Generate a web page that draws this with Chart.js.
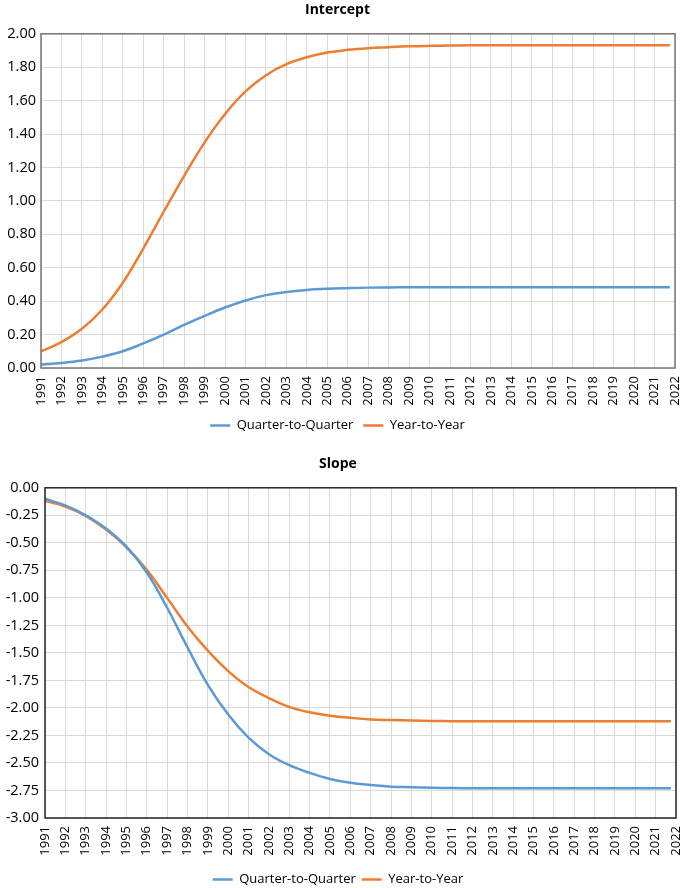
<!DOCTYPE html>
<html><head><meta charset="utf-8">
<script src="https://cdn.jsdelivr.net/npm/chart.js@4.4.0/dist/chart.umd.min.js"></script>
<style>html,body{margin:0;padding:0;background:#fff;} .box{width:685px;height:444px;position:relative;}</style>
</head><body>
<div class="box"><canvas id="c1" width="685" height="444"></canvas></div>
<div class="box"><canvas id="c2" width="685" height="444"></canvas></div>
<script>
// x positions (years; last point is 2021 Q4)
const years = [1991,1992,1993,1994,1995,1996,1997,1998,1999,2000,2001,2002,2003,2004,2005,2006,2007,2008,2009,2010,2011,2012,2013,2014,2015,2016,2017,2018,2019,2020,2021,2021.75];
const seriesNames = ['Quarter-to-Quarter','Year-to-Year'];
const interceptQ = [0.020,0.030,0.045,0.068,0.100,0.147,0.200,0.258,0.312,0.362,0.404,0.436,0.455,0.467,0.474,0.478,0.481,0.482,0.483,0.483,0.483,0.483,0.483,0.483,0.483,0.483,0.483,0.483,0.483,0.483,0.483,0.483];
const interceptY = [0.100,0.155,0.235,0.350,0.510,0.715,0.935,1.150,1.350,1.520,1.655,1.752,1.818,1.860,1.888,1.904,1.914,1.920,1.925,1.928,1.930,1.931,1.932,1.932,1.932,1.932,1.932,1.932,1.932,1.932,1.932,1.932];
const slopeQ = [-0.10,-0.16,-0.25,-0.37,-0.535,-0.77,-1.09,-1.45,-1.79,-2.06,-2.27,-2.42,-2.52,-2.59,-2.645,-2.68,-2.70,-2.715,-2.72,-2.725,-2.728,-2.73,-2.73,-2.73,-2.73,-2.73,-2.73,-2.73,-2.73,-2.73,-2.73,-2.73];
const slopeY = [-0.12,-0.17,-0.255,-0.38,-0.54,-0.745,-1.00,-1.26,-1.48,-1.665,-1.81,-1.91,-1.99,-2.04,-2.07,-2.09,-2.105,-2.11,-2.115,-2.118,-2.12,-2.12,-2.12,-2.12,-2.12,-2.12,-2.12,-2.12,-2.12,-2.12,-2.12,-2.12];
const xMin = 1991, xMax = 2022;
const interceptTicks = {min:0, max:2, step:0.2};
const slopeTicks = {min:-3, max:0, step:0.25};

const BLUE = '#5B9BD5', ORANGE = '#ED7D31';
Chart.defaults.font.family = "'Open Sans', sans-serif";
Chart.defaults.color = '#000';

const frame = {
  id:'frame',
  afterDatasetsDraw(chart, args, opts){
    const a = chart.chartArea, ctx = chart.ctx;
    ctx.save();
    ctx.strokeStyle = opts.color; ctx.lineWidth = 1.5;
    ctx.strokeRect(a.left, a.top, a.right - a.left, a.bottom - a.top);
    ctx.restore();
  }
};

function pts(arr){ return years.map((x,i)=>({x:x, y:arr[i]})); }

function makeChart(id, title, q, y, yt, cfg){
  return new Chart(document.getElementById(id), {
    type:'line',
    data:{datasets:[
      {label:seriesNames[0], data:pts(q), borderColor:BLUE, backgroundColor:BLUE, borderWidth:2.5, pointRadius:0, tension:0.4},
      {label:seriesNames[1], data:pts(y), borderColor:ORANGE, backgroundColor:ORANGE, borderWidth:2.5, pointRadius:0, tension:0.4}
    ]},
    plugins:[frame],
    options:{
      responsive:false, animation:false, devicePixelRatio:1,
      layout:{padding:{left:0, right:cfg.right, top:0, bottom:cfg.bottom}},
      plugins:{
        frame:{color:cfg.frame},
        title:{display:true, text:title, font:{size:14, weight:'bold'}, color:'#000', padding:{top:cfg.tTop, bottom:cfg.tBot}},
        legend:{position:'bottom', labels:{usePointStyle:true, pointStyle:'line', pointStyleWidth:20, boxHeight:3, padding:cfg.lPad, font:{size:13}, color:'#000'}},
        tooltip:{enabled:false}
      },
      scales:{
        x:{type:'linear', min:xMin, max:xMax,
           afterFit(s){ s.height = cfg.xH; s.paddingLeft = 0; s.paddingRight = 0; },
           grid:{color:'#d9d9d9', drawTicks:false}, border:{display:false},
           ticks:{stepSize:1, autoSkip:false, maxRotation:90, minRotation:90, padding:8, font:{size:13}, callback:v=>String(v)}},
        y:{min:yt.min, max:yt.max,
           afterFit(s){ s.width = cfg.yW; },
           grid:{color:'#d9d9d9', drawTicks:false}, border:{display:false},
           ticks:{stepSize:yt.step, padding:cfg.yPad, font:{size:14.5}, callback:v=>v.toFixed(2)}}
      }
    }
  });
}

makeChart('c1','Intercept', interceptQ, interceptY, interceptTicks,
  {right:10, bottom:2, tTop:2, tBot:15, lPad:10, xH:41, yW:41, yPad:5, frame:'#767676'});
makeChart('c2','Slope', slopeQ, slopeY, slopeTicks,
  {right:9, bottom:-8, tTop:12, tBot:15, lPad:6, xH:49, yW:45, yPad:6, frame:'#262626'});
</script>
</body></html>
